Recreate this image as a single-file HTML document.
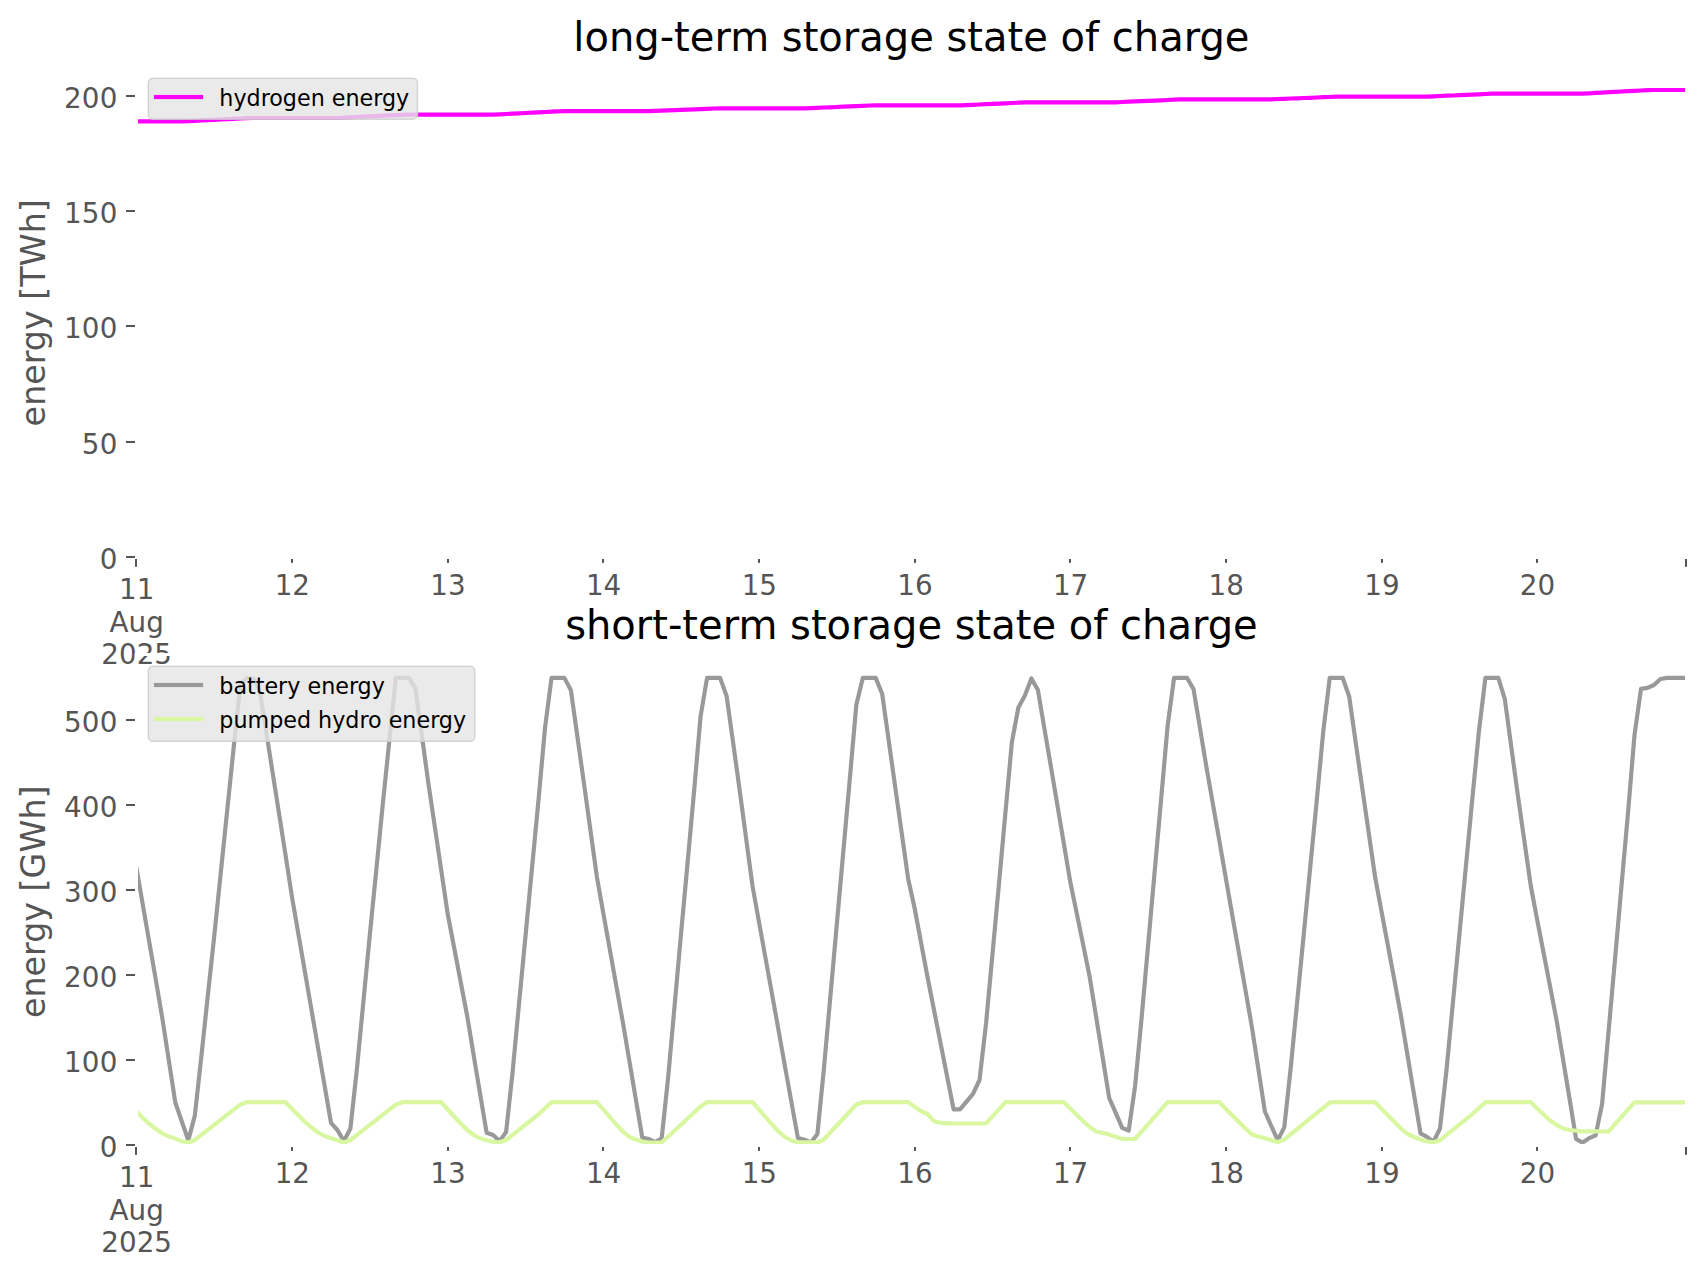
<!DOCTYPE html>
<html lang="en"><head><meta charset="utf-8"><title>storage state of charge</title>
<style>html,body{margin:0;padding:0;background:#ffffff;}body{width:1706px;height:1277px;overflow:hidden;}svg text{font-family:'DejaVu Sans', 'Liberation Sans', sans-serif;} .t{letter-spacing:0.3px}</style></head>
<body>
<svg width="1706" height="1277" viewBox="0 0 1706 1277" style="display:block">
<rect x="0" y="0" width="1706" height="1277" fill="#ffffff"/>
<defs><clipPath id="c1"><rect x="136.4" y="66.5" width="1550.0" height="490.5"/></clipPath><clipPath id="c2"><rect x="136.4" y="654.5" width="1550.0" height="490.5"/></clipPath></defs>
<text x="911.4" y="50.8" font-size="40" text-anchor="middle" fill="#000000">long-term storage state of charge</text>
<text transform="translate(44.5,312.8) rotate(-90)" font-size="33.33" text-anchor="middle" fill="#555555">energy [TWh]</text>
<polyline clip-path="url(#c1)" points="136.4,121.4 142.9,121.4 149.4,121.4 155.9,121.4 162.3,121.4 168.8,121.4 175.3,121.4 181.8,121.4 188.3,121.1 194.8,120.8 201.3,120.4 207.7,120.1 214.2,119.8 220.7,119.5 227.2,119.1 233.7,118.8 240.2,118.5 246.7,118.2 253.1,118.0 259.6,118.0 266.1,118.0 272.6,118.0 279.1,118.0 285.6,118.0 292.0,118.0 298.5,118.0 305.0,118.0 311.5,118.0 318.0,118.0 324.5,118.0 331.0,118.0 337.4,118.0 343.9,117.7 350.4,117.4 356.9,117.0 363.4,116.7 369.9,116.4 376.4,116.1 382.8,115.7 389.3,115.4 395.8,115.1 402.3,114.8 408.8,114.6 415.3,114.6 421.8,114.6 428.2,114.6 434.7,114.6 441.2,114.6 447.7,114.6 454.2,114.6 460.7,114.6 467.2,114.6 473.6,114.6 480.1,114.6 486.6,114.6 493.1,114.6 499.6,114.3 506.1,114.0 512.6,113.6 519.0,113.3 525.5,113.0 532.0,112.7 538.5,112.3 545.0,112.0 551.5,111.7 557.9,111.4 564.4,111.2 570.9,111.2 577.4,111.2 583.9,111.2 590.4,111.2 596.9,111.2 603.3,111.2 609.8,111.2 616.3,111.2 622.8,111.2 629.3,111.2 635.8,111.2 642.3,111.2 648.7,111.2 655.2,110.9 661.7,110.7 668.2,110.4 674.7,110.1 681.2,109.9 687.7,109.6 694.1,109.3 700.6,109.1 707.1,108.8 713.6,108.5 720.1,108.4 726.6,108.4 733.1,108.4 739.5,108.4 746.0,108.4 752.5,108.4 759.0,108.4 765.5,108.4 772.0,108.4 778.5,108.4 784.9,108.4 791.4,108.4 797.9,108.4 804.4,108.4 810.9,108.1 817.4,107.8 823.8,107.5 830.3,107.3 836.8,107.0 843.3,106.7 849.8,106.4 856.3,106.1 862.8,105.8 869.2,105.5 875.7,105.4 882.2,105.4 888.7,105.4 895.2,105.4 901.7,105.4 908.2,105.4 914.6,105.4 921.1,105.4 927.6,105.4 934.1,105.4 940.6,105.4 947.1,105.4 953.6,105.4 960.0,105.4 966.5,105.1 973.0,104.8 979.5,104.5 986.0,104.2 992.5,103.9 999.0,103.6 1005.4,103.3 1011.9,103.0 1018.4,102.7 1024.9,102.4 1031.4,102.3 1037.9,102.3 1044.3,102.3 1050.8,102.3 1057.3,102.3 1063.8,102.3 1070.3,102.3 1076.8,102.3 1083.3,102.3 1089.7,102.3 1096.2,102.3 1102.7,102.3 1109.2,102.3 1115.7,102.3 1122.2,102.0 1128.7,101.7 1135.1,101.4 1141.6,101.2 1148.1,100.9 1154.6,100.6 1161.1,100.3 1167.6,100.0 1174.1,99.7 1180.5,99.4 1187.0,99.3 1193.5,99.3 1200.0,99.3 1206.5,99.3 1213.0,99.3 1219.5,99.3 1225.9,99.3 1232.4,99.3 1238.9,99.3 1245.4,99.3 1251.9,99.3 1258.4,99.3 1264.9,99.3 1271.3,99.3 1277.8,99.0 1284.3,98.8 1290.8,98.5 1297.3,98.3 1303.8,98.0 1310.2,97.8 1316.7,97.5 1323.2,97.2 1329.7,97.0 1336.2,96.7 1342.7,96.6 1349.2,96.6 1355.6,96.6 1362.1,96.6 1368.6,96.6 1375.1,96.6 1381.6,96.6 1388.1,96.6 1394.6,96.6 1401.0,96.6 1407.5,96.6 1414.0,96.6 1420.5,96.6 1427.0,96.6 1433.5,96.3 1440.0,96.0 1446.4,95.7 1452.9,95.5 1459.4,95.2 1465.9,94.9 1472.4,94.6 1478.9,94.3 1485.4,94.0 1491.8,93.7 1498.3,93.6 1504.8,93.6 1511.3,93.6 1517.8,93.6 1524.3,93.6 1530.8,93.6 1537.2,93.6 1543.7,93.6 1550.2,93.6 1556.7,93.6 1563.2,93.6 1569.7,93.6 1576.1,93.6 1582.6,93.6 1589.1,93.3 1595.6,92.9 1602.1,92.6 1608.6,92.2 1615.1,91.9 1621.5,91.5 1628.0,91.2 1634.5,90.9 1641.0,90.5 1647.5,90.2 1654.0,90.0 1660.5,90.0 1666.9,90.0 1673.4,90.0 1679.9,90.0 1686.4,90.0" fill="none" stroke="#ff00ff" stroke-width="4.17" stroke-linejoin="round" stroke-linecap="butt"/>
<path fill="#ffffff" d="M134.6,65.0H1688V559.0H134.6Z M138,68.0V556.0H1685V68.0Z" fill-rule="evenodd"/>
<rect x="126.00" y="556.00" width="9" height="2" fill="#555555"/>
<text class="t" x="117.8" y="568.7" font-size="27.78" text-anchor="end" fill="#555555">0</text>
<rect x="126.00" y="441.00" width="9" height="2" fill="#555555"/>
<text class="t" x="117.8" y="453.7" font-size="27.78" text-anchor="end" fill="#555555">50</text>
<rect x="126.00" y="325.00" width="9" height="2" fill="#555555"/>
<text class="t" x="117.8" y="337.7" font-size="27.78" text-anchor="end" fill="#555555">100</text>
<rect x="126.00" y="210.00" width="9" height="2" fill="#555555"/>
<text class="t" x="117.8" y="222.7" font-size="27.78" text-anchor="end" fill="#555555">150</text>
<rect x="126.00" y="95.00" width="9" height="2" fill="#555555"/>
<text class="t" x="117.8" y="107.7" font-size="27.78" text-anchor="end" fill="#555555">200</text>
<rect x="135.00" y="559.00" width="2" height="7.82" fill="#555555"/>
<text x="136.7" y="598.9" font-size="27.78" text-anchor="middle" fill="#555555">11</text>
<text x="136.7" y="631.9" font-size="27.78" text-anchor="middle" fill="#555555">Aug</text>
<text x="136.7" y="663.5" font-size="27.78" text-anchor="middle" fill="#555555">2025</text>
<rect x="291.00" y="559.00" width="2" height="3.86" fill="#555555"/>
<text x="292.3" y="594.7" font-size="27.78" text-anchor="middle" fill="#555555">12</text>
<rect x="447.00" y="559.00" width="2" height="3.86" fill="#555555"/>
<text x="448.0" y="594.7" font-size="27.78" text-anchor="middle" fill="#555555">13</text>
<rect x="602.00" y="559.00" width="2" height="3.86" fill="#555555"/>
<text x="603.6" y="594.7" font-size="27.78" text-anchor="middle" fill="#555555">14</text>
<rect x="758.00" y="559.00" width="2" height="3.86" fill="#555555"/>
<text x="759.3" y="594.7" font-size="27.78" text-anchor="middle" fill="#555555">15</text>
<rect x="914.00" y="559.00" width="2" height="3.86" fill="#555555"/>
<text x="914.9" y="594.7" font-size="27.78" text-anchor="middle" fill="#555555">16</text>
<rect x="1069.00" y="559.00" width="2" height="3.86" fill="#555555"/>
<text x="1070.6" y="594.7" font-size="27.78" text-anchor="middle" fill="#555555">17</text>
<rect x="1225.00" y="559.00" width="2" height="3.86" fill="#555555"/>
<text x="1226.2" y="594.7" font-size="27.78" text-anchor="middle" fill="#555555">18</text>
<rect x="1381.00" y="559.00" width="2" height="3.86" fill="#555555"/>
<text x="1381.9" y="594.7" font-size="27.78" text-anchor="middle" fill="#555555">19</text>
<rect x="1536.00" y="559.00" width="2" height="3.86" fill="#555555"/>
<text x="1537.5" y="594.7" font-size="27.78" text-anchor="middle" fill="#555555">20</text>
<rect x="1685.00" y="559.00" width="2" height="7.82" fill="#555555"/>
<rect x="148.3" y="78.2" width="269.2" height="41.0" rx="4.6" ry="4.6" fill="#e5e5e5" fill-opacity="0.8" stroke="#cccccc" stroke-opacity="0.8" stroke-width="1.39"/>
<rect x="153.90" y="94.92" width="49.2" height="4.17" fill="#ff00ff"/>
<text x="219.30" y="106.30" font-size="22.22" fill="#000000">hydrogen energy</text>
<text x="911.4" y="638.8" font-size="40" text-anchor="middle" fill="#000000">short-term storage state of charge</text>
<text transform="translate(44.5,901.8) rotate(-90)" font-size="33.33" text-anchor="middle" fill="#555555">energy [GWh]</text>
<polyline clip-path="url(#c2)" points="136.4,867.7 142.9,905.3 149.4,942.9 155.9,980.4 162.3,1018.0 168.8,1060.2 175.3,1102.5 181.8,1121.5 188.3,1140.4 194.8,1115.8 201.3,1057.0 207.7,996.8 214.2,936.5 220.7,873.5 227.2,810.5 233.7,747.5 240.2,686.0 246.7,678.0 253.1,678.5 259.6,690.0 266.1,731.0 272.6,772.5 279.1,814.0 285.6,855.5 292.0,897.0 298.5,934.6 305.0,972.3 311.5,1010.0 318.0,1047.6 324.5,1085.2 331.0,1122.9 337.4,1130.0 343.9,1141.1 350.4,1128.5 356.9,1069.0 363.4,1001.5 369.9,934.0 376.4,869.0 382.8,804.0 389.3,741.0 395.8,677.9 402.3,677.9 408.8,677.9 415.3,688.2 421.8,735.1 428.2,782.0 434.7,826.0 441.2,870.0 447.7,914.0 454.2,948.0 460.7,982.0 467.2,1016.0 473.6,1054.9 480.1,1093.8 486.6,1132.7 493.1,1135.0 499.6,1141.1 506.1,1132.0 512.6,1072.0 519.0,1004.0 525.5,936.0 532.0,868.0 538.5,800.0 545.0,728.0 551.5,677.9 557.9,677.9 564.4,677.9 570.9,690.3 577.4,736.6 583.9,783.0 590.4,830.0 596.9,877.0 603.3,913.2 609.8,949.5 616.3,985.8 622.8,1022.0 629.3,1060.5 635.8,1099.1 642.3,1137.6 648.7,1139.0 655.2,1142.1 661.7,1138.3 668.2,1077.0 674.7,1004.5 681.2,932.0 687.7,861.5 694.1,791.0 700.6,716.0 707.1,677.9 713.6,677.9 720.1,677.9 726.6,696.0 733.1,742.5 739.5,789.0 746.0,837.5 752.5,886.0 759.0,922.0 765.5,958.0 772.0,994.0 778.5,1030.0 784.9,1066.0 791.4,1102.0 797.9,1138.0 804.4,1139.7 810.9,1142.5 817.4,1134.0 823.8,1070.0 830.3,997.2 836.8,924.5 843.3,851.8 849.8,779.0 856.3,705.0 862.8,677.9 869.2,677.9 875.7,677.9 882.2,694.0 888.7,740.5 895.2,787.0 901.7,833.0 908.2,879.0 914.6,908.0 921.1,942.8 927.6,977.5 934.1,1010.5 940.6,1043.4 947.1,1076.3 953.6,1109.3 960.0,1109.3 966.5,1101.6 973.0,1093.9 979.5,1080.0 986.0,1024.0 992.5,954.0 999.0,883.5 1005.4,813.0 1011.9,742.0 1018.4,707.5 1024.9,695.5 1031.4,678.4 1037.9,690.0 1044.3,728.0 1050.8,766.0 1057.3,804.7 1063.8,843.3 1070.3,882.0 1076.8,913.7 1083.3,945.3 1089.7,977.0 1096.2,1017.3 1102.7,1057.7 1109.2,1098.0 1115.7,1112.9 1122.2,1127.8 1128.7,1130.6 1135.1,1086.0 1141.6,1018.0 1148.1,945.2 1154.6,872.3 1161.1,799.5 1167.6,726.0 1174.1,677.9 1180.5,677.9 1187.0,677.9 1193.5,689.0 1200.0,728.2 1206.5,767.5 1213.0,804.6 1219.5,841.6 1225.9,878.7 1232.4,915.8 1238.9,952.9 1245.4,989.9 1251.9,1027.0 1258.4,1069.2 1264.9,1111.5 1271.3,1126.0 1277.8,1140.4 1284.3,1127.1 1290.8,1067.0 1297.3,1000.5 1303.8,934.0 1310.2,867.5 1316.7,801.0 1323.2,732.0 1329.7,677.9 1336.2,677.9 1342.7,677.9 1349.2,696.5 1355.6,741.8 1362.1,787.0 1368.6,832.0 1375.1,877.0 1381.6,911.8 1388.1,946.5 1394.6,981.2 1401.0,1016.0 1407.5,1055.1 1414.0,1094.3 1420.5,1133.4 1427.0,1136.9 1433.5,1141.8 1440.0,1128.5 1446.4,1071.0 1452.9,1002.8 1459.4,934.5 1465.9,866.2 1472.4,798.0 1478.9,731.5 1485.4,677.9 1491.8,677.9 1498.3,677.9 1504.8,699.0 1511.3,747.0 1517.8,795.0 1524.3,840.5 1530.8,886.0 1537.2,919.8 1543.7,953.5 1550.2,987.2 1556.7,1021.0 1563.2,1060.3 1569.7,1099.7 1576.1,1139.0 1582.6,1142.6 1589.1,1138.2 1595.6,1135.4 1602.1,1104.0 1608.6,1031.0 1615.1,958.3 1621.5,885.7 1628.0,813.0 1634.5,735.0 1641.0,688.9 1647.5,687.9 1654.0,685.0 1660.5,679.0 1666.9,677.9 1673.4,677.9 1679.9,677.9 1686.4,677.9" fill="none" stroke="#999999" stroke-width="4.17" stroke-linejoin="round" stroke-linecap="butt"/>
<polyline clip-path="url(#c2)" points="136.4,1111.6 142.9,1118.0 149.4,1124.0 155.9,1129.0 162.3,1133.3 168.8,1136.3 175.3,1138.6 181.8,1141.3 188.3,1142.5 194.8,1140.0 201.3,1134.9 207.7,1129.9 214.2,1124.8 220.7,1119.8 227.2,1114.7 233.7,1109.7 240.2,1104.6 246.7,1102.2 253.1,1102.2 259.6,1102.2 266.1,1102.2 272.6,1102.2 279.1,1102.2 285.6,1102.2 292.0,1109.0 298.5,1115.5 305.0,1122.0 311.5,1127.5 318.0,1132.5 324.5,1136.0 331.0,1138.3 337.4,1140.3 343.9,1142.5 350.4,1140.0 356.9,1134.9 363.4,1129.9 369.9,1124.8 376.4,1119.8 382.8,1114.7 389.3,1109.7 395.8,1104.6 402.3,1102.2 408.8,1102.2 415.3,1102.2 421.8,1102.2 428.2,1102.2 434.7,1102.2 441.2,1102.2 447.7,1109.5 454.2,1116.5 460.7,1123.5 467.2,1130.0 473.6,1135.0 480.1,1138.3 486.6,1140.3 493.1,1141.8 499.6,1142.3 506.1,1140.0 512.6,1134.9 519.0,1129.8 525.5,1124.6 532.0,1119.5 538.5,1114.4 545.0,1108.3 551.5,1102.2 557.9,1102.2 564.4,1102.2 570.9,1102.2 577.4,1102.2 583.9,1102.2 590.4,1102.2 596.9,1102.2 603.3,1109.5 609.8,1117.0 616.3,1124.5 622.8,1131.5 629.3,1137.0 635.8,1139.5 642.3,1141.5 648.7,1142.5 655.2,1142.5 661.7,1142.5 668.2,1136.5 674.7,1130.5 681.2,1124.5 687.7,1118.5 694.1,1112.5 700.6,1106.5 707.1,1102.2 713.6,1102.2 720.1,1102.2 726.6,1102.2 733.1,1102.2 739.5,1102.2 746.0,1102.2 752.5,1102.2 759.0,1109.5 765.5,1117.0 772.0,1124.5 778.5,1131.5 784.9,1137.0 791.4,1140.5 797.9,1142.3 804.4,1142.4 810.9,1142.4 817.4,1142.5 823.8,1139.5 830.3,1132.5 836.8,1125.5 843.3,1118.5 849.8,1111.5 856.3,1104.5 862.8,1102.2 869.2,1102.2 875.7,1102.2 882.2,1102.2 888.7,1102.2 895.2,1102.2 901.7,1102.2 908.2,1102.2 914.6,1106.8 921.1,1111.3 927.6,1114.0 934.1,1121.3 940.6,1122.8 947.1,1123.2 953.6,1123.5 960.0,1123.5 966.5,1123.5 973.0,1123.5 979.5,1123.5 986.0,1123.5 992.5,1116.4 999.0,1109.3 1005.4,1102.2 1011.9,1102.2 1018.4,1102.2 1024.9,1102.2 1031.4,1102.2 1037.9,1102.2 1044.3,1102.2 1050.8,1102.2 1057.3,1102.2 1063.8,1102.2 1070.3,1108.5 1076.8,1115.0 1083.3,1121.3 1089.7,1127.0 1096.2,1131.5 1102.7,1133.0 1109.2,1134.6 1115.7,1136.8 1122.2,1138.9 1128.7,1139.0 1135.1,1139.0 1141.6,1131.6 1148.1,1124.3 1154.6,1116.9 1161.1,1109.6 1167.6,1102.2 1174.1,1102.2 1180.5,1102.2 1187.0,1102.2 1193.5,1102.2 1200.0,1102.2 1206.5,1102.2 1213.0,1102.2 1219.5,1102.2 1225.9,1109.0 1232.4,1115.5 1238.9,1122.0 1245.4,1128.5 1251.9,1134.3 1258.4,1136.5 1264.9,1138.2 1271.3,1140.2 1277.8,1142.1 1284.3,1139.5 1290.8,1134.2 1297.3,1129.0 1303.8,1123.7 1310.2,1118.4 1316.7,1113.1 1323.2,1107.9 1329.7,1102.6 1336.2,1102.2 1342.7,1102.2 1349.2,1102.2 1355.6,1102.2 1362.1,1102.2 1368.6,1102.2 1375.1,1102.2 1381.6,1109.0 1388.1,1115.5 1394.6,1122.0 1401.0,1128.5 1407.5,1134.0 1414.0,1137.0 1420.5,1139.5 1427.0,1141.5 1433.5,1142.3 1440.0,1140.3 1446.4,1135.0 1452.9,1129.8 1459.4,1124.5 1465.9,1119.3 1472.4,1114.0 1478.9,1108.1 1485.4,1102.2 1491.8,1102.2 1498.3,1102.2 1504.8,1102.2 1511.3,1102.2 1517.8,1102.2 1524.3,1102.2 1530.8,1102.2 1537.2,1108.4 1543.7,1114.6 1550.2,1120.5 1556.7,1125.0 1563.2,1128.5 1569.7,1130.0 1576.1,1130.7 1582.6,1131.3 1589.1,1131.3 1595.6,1131.4 1602.1,1131.5 1608.6,1131.5 1615.1,1124.2 1621.5,1116.9 1628.0,1109.6 1634.5,1102.3 1641.0,1102.3 1647.5,1102.3 1654.0,1102.3 1660.5,1102.3 1666.9,1102.3 1673.4,1102.3 1679.9,1102.3 1686.4,1102.3" fill="none" stroke="#d9f7a0" stroke-width="4.17" stroke-linejoin="round" stroke-linecap="butt"/>
<path fill="#ffffff" d="M134.6,653.0H1688V1147.0H134.6Z M138,656.0V1144.0H1685V656.0Z" fill-rule="evenodd"/>
<rect x="126.00" y="1144.00" width="9" height="2" fill="#555555"/>
<text class="t" x="117.8" y="1156.7" font-size="27.78" text-anchor="end" fill="#555555">0</text>
<rect x="126.00" y="1059.00" width="9" height="2" fill="#555555"/>
<text class="t" x="117.8" y="1071.7" font-size="27.78" text-anchor="end" fill="#555555">100</text>
<rect x="126.00" y="974.00" width="9" height="2" fill="#555555"/>
<text class="t" x="117.8" y="986.7" font-size="27.78" text-anchor="end" fill="#555555">200</text>
<rect x="126.00" y="889.00" width="9" height="2" fill="#555555"/>
<text class="t" x="117.8" y="901.7" font-size="27.78" text-anchor="end" fill="#555555">300</text>
<rect x="126.00" y="804.00" width="9" height="2" fill="#555555"/>
<text class="t" x="117.8" y="816.7" font-size="27.78" text-anchor="end" fill="#555555">400</text>
<rect x="126.00" y="719.00" width="9" height="2" fill="#555555"/>
<text class="t" x="117.8" y="731.7" font-size="27.78" text-anchor="end" fill="#555555">500</text>
<rect x="135.00" y="1147.00" width="2" height="7.82" fill="#555555"/>
<text x="136.7" y="1186.9" font-size="27.78" text-anchor="middle" fill="#555555">11</text>
<text x="136.7" y="1219.9" font-size="27.78" text-anchor="middle" fill="#555555">Aug</text>
<text x="136.7" y="1251.5" font-size="27.78" text-anchor="middle" fill="#555555">2025</text>
<rect x="291.00" y="1147.00" width="2" height="3.86" fill="#555555"/>
<text x="292.3" y="1182.7" font-size="27.78" text-anchor="middle" fill="#555555">12</text>
<rect x="447.00" y="1147.00" width="2" height="3.86" fill="#555555"/>
<text x="448.0" y="1182.7" font-size="27.78" text-anchor="middle" fill="#555555">13</text>
<rect x="602.00" y="1147.00" width="2" height="3.86" fill="#555555"/>
<text x="603.6" y="1182.7" font-size="27.78" text-anchor="middle" fill="#555555">14</text>
<rect x="758.00" y="1147.00" width="2" height="3.86" fill="#555555"/>
<text x="759.3" y="1182.7" font-size="27.78" text-anchor="middle" fill="#555555">15</text>
<rect x="914.00" y="1147.00" width="2" height="3.86" fill="#555555"/>
<text x="914.9" y="1182.7" font-size="27.78" text-anchor="middle" fill="#555555">16</text>
<rect x="1069.00" y="1147.00" width="2" height="3.86" fill="#555555"/>
<text x="1070.6" y="1182.7" font-size="27.78" text-anchor="middle" fill="#555555">17</text>
<rect x="1225.00" y="1147.00" width="2" height="3.86" fill="#555555"/>
<text x="1226.2" y="1182.7" font-size="27.78" text-anchor="middle" fill="#555555">18</text>
<rect x="1381.00" y="1147.00" width="2" height="3.86" fill="#555555"/>
<text x="1381.9" y="1182.7" font-size="27.78" text-anchor="middle" fill="#555555">19</text>
<rect x="1536.00" y="1147.00" width="2" height="3.86" fill="#555555"/>
<text x="1537.5" y="1182.7" font-size="27.78" text-anchor="middle" fill="#555555">20</text>
<rect x="1685.00" y="1147.00" width="2" height="7.82" fill="#555555"/>
<rect x="148.3" y="666.2" width="326.5" height="75.1" rx="4.6" ry="4.6" fill="#e5e5e5" fill-opacity="0.8" stroke="#cccccc" stroke-opacity="0.8" stroke-width="1.39"/>
<rect x="153.90" y="682.92" width="49.2" height="4.17" fill="#999999"/>
<text x="219.30" y="694.30" font-size="22.22" fill="#000000">battery energy</text>
<rect x="153.90" y="716.92" width="49.2" height="4.17" fill="#d9f7a0"/>
<text x="219.30" y="728.30" font-size="22.22" fill="#000000">pumped hydro energy</text>
</svg>
</body></html>
